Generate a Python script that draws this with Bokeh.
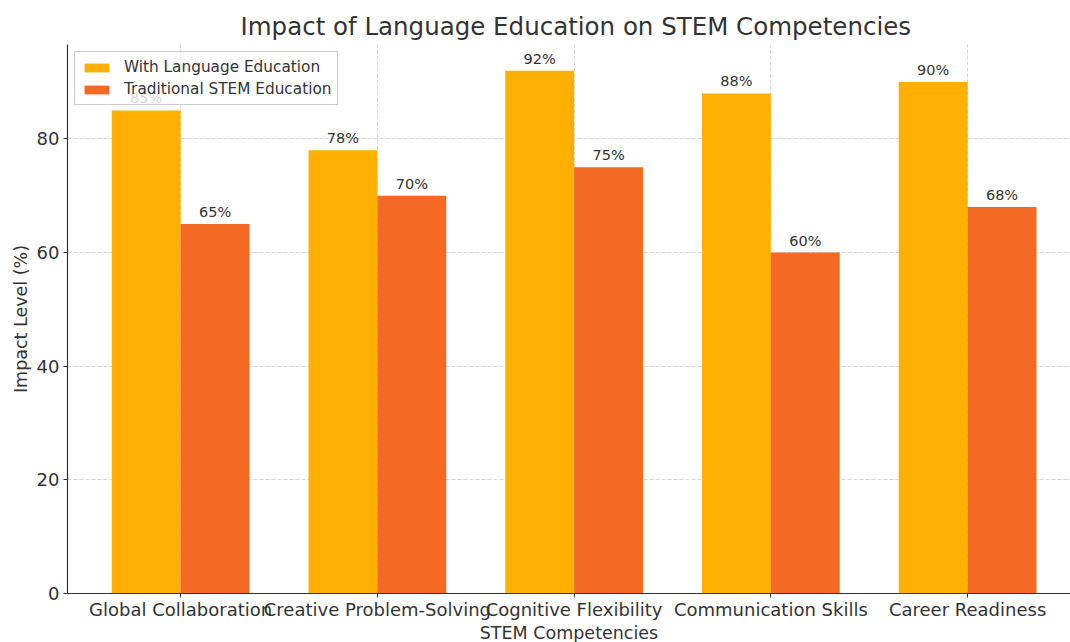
from bokeh.plotting import figure
from bokeh.models import Range1d, FixedTicker, Legend, LegendItem, ColumnDataSource
from bokeh.embed import file_html
from bokeh.resources import INLINE

categories = ["Global Collaboration", "Creative Problem-Solving", "Cognitive Flexibility",
              "Communication Skills", "Career Readiness"]
with_language = [85, 78, 92, 88, 90]
traditional = [65, 70, 75, 60, 68]
series_names = ["With Language Education", "Traditional STEM Education"]
colors = ["#FFB000", "#F46A25"]
y_ticks = [0, 20, 40, 60, 80]

FONT = "DejaVu Sans"
TXT = "#333333"
bw = 0.35
n = len(categories)
idx = list(range(n))

p = figure(frame_width=1003, frame_height=549, output_backend="svg", toolbar_location=None,
           x_range=Range1d(-0.575, 4.523), y_range=Range1d(0, 96.6),
           min_border_left=67, min_border_right=0, min_border_top=44, min_border_bottom=0,
           title="Impact of Language Education on STEM Competencies")
p.outline_line_color = None
p.background_fill_color = "white"
p.border_fill_color = "white"

p.title.text_font = FONT
p.title.text_font_size = "24.5px"
p.title.text_font_style = "normal"
p.title.text_color = TXT
p.title.align = "left"
p.title.offset = 173
p.title.standoff = 8

src1 = ColumnDataSource(dict(x=[i - bw / 2 for i in idx], top=with_language,
                             lab=[f"{v}%" for v in with_language]))
src2 = ColumnDataSource(dict(x=[i + bw / 2 for i in idx], top=traditional,
                             lab=[f"{v}%" for v in traditional]))

r1 = p.vbar(x="x", top="top", width=bw, bottom=0, source=src1, fill_color=colors[0], line_color=None)
r2 = p.vbar(x="x", top="top", width=bw, bottom=0, source=src2, fill_color=colors[1], line_color=None)

for s in (src1, src2):
    p.text(x="x", y="top", text="lab", source=s, text_align="center", text_baseline="bottom",
           y_offset=-4, text_font_size="14.5px", text_color=TXT, text_font={"value": FONT})

# axes
for ax in (p.xaxis[0], p.yaxis[0]):
    ax.axis_line_color = "#333333"
    ax.axis_line_width = 1.2
    ax.major_tick_line_color = "#333333"
    ax.major_tick_out = 4
    ax.major_tick_in = 0
    ax.minor_tick_line_color = None
    ax.major_label_text_font = FONT
    ax.major_label_text_font_size = "18px"
    ax.major_label_text_color = TXT
    ax.axis_label_text_font = FONT
    ax.axis_label_text_font_size = "17.5px"
    ax.axis_label_text_font_style = "normal"
    ax.axis_label_text_color = TXT

p.xaxis.ticker = FixedTicker(ticks=idx)
p.xaxis.major_label_overrides = {i: c for i, c in zip(idx, categories)}
p.xaxis.axis_label = "STEM Competencies"
p.xaxis.major_label_standoff = 1
p.xaxis.axis_label_standoff = 0
p.yaxis.ticker = FixedTicker(ticks=y_ticks)
p.yaxis.axis_label = "Impact Level (%)"
p.yaxis.major_label_standoff = 4
p.yaxis.axis_label_standoff = 3

p.xgrid.ticker = FixedTicker(ticks=idx)
for g in (p.xgrid[0], p.ygrid[0]):
    g.grid_line_color = "#cccccc"
    g.grid_line_dash = "4 2"
    g.grid_line_width = 0.8

legend = Legend(items=[LegendItem(label=series_names[0], renderers=[r1]),
                       LegendItem(label=series_names[1], renderers=[r2])],
                location="top_left")
legend.label_text_font = FONT
legend.label_text_font_size = "15.3px"
legend.label_text_color = TXT
legend.glyph_width = 31
legend.glyph_height = 11
legend.label_height = 15
legend.label_standoff = 12
legend.spacing = 4
legend.padding = 6
legend.margin = 7
legend.background_fill_alpha = 0.8
legend.border_line_color = "#cccccc"
legend.border_line_alpha = 1
p.add_layout(legend)

open("out.html", "w").write(file_html(p, INLINE))
